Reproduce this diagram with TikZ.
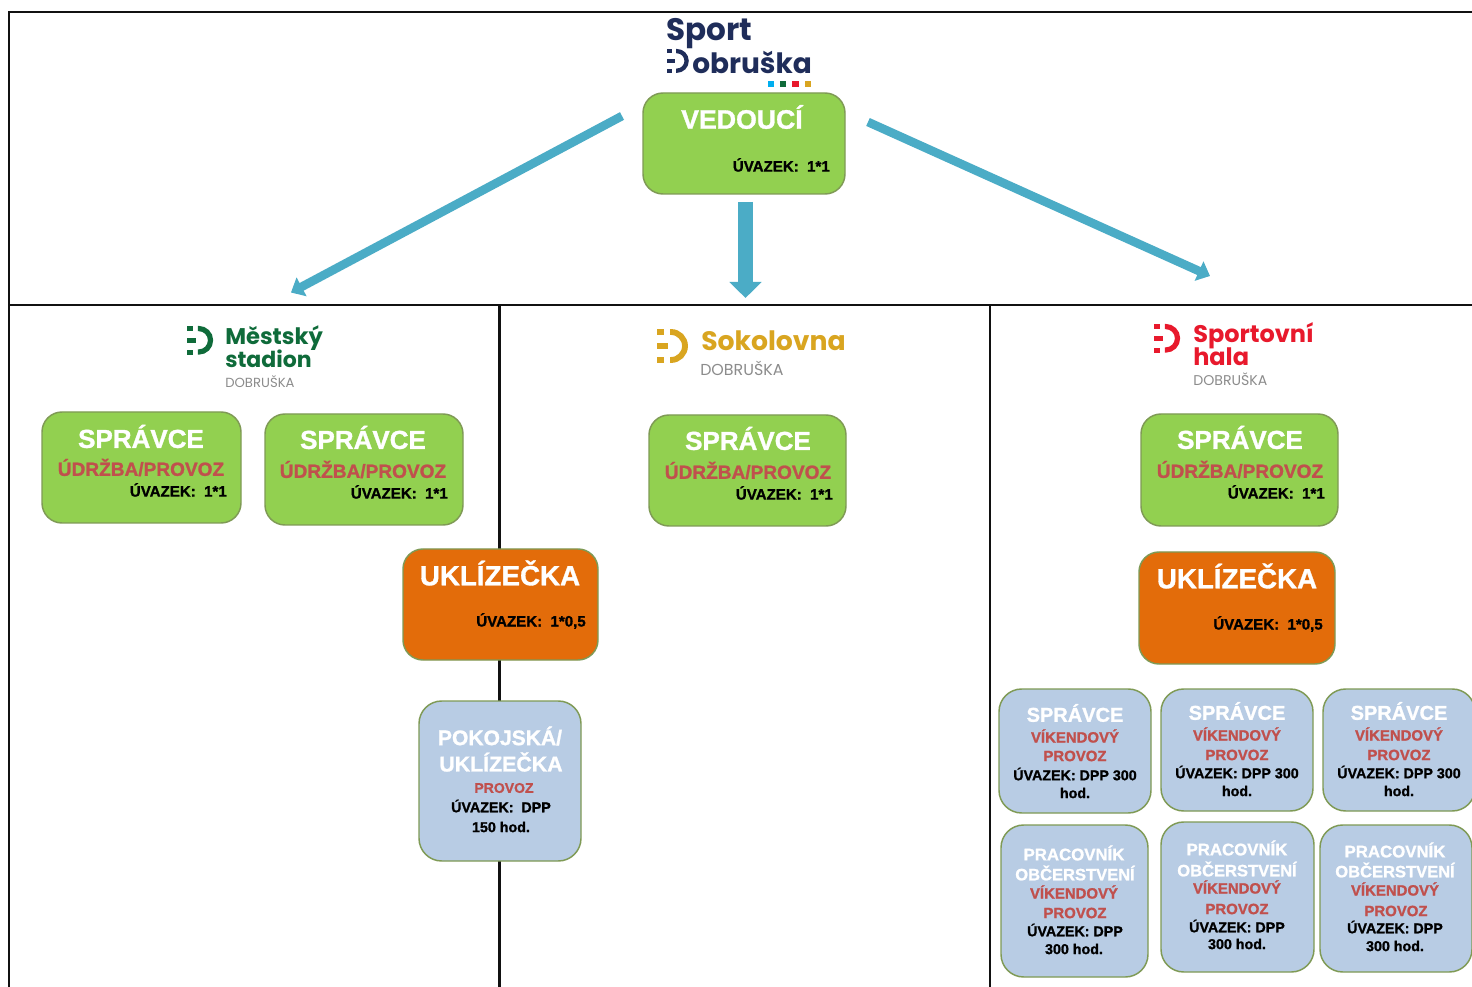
\documentclass[tikz,border=0pt]{standalone}
\usepackage{fontspec}
\setmainfont{Liberation Sans}[BoldFeatures={FakeBold=1.2}]
\newfontfamily\logofont{Poppins}
\usetikzlibrary{arrows.meta}
\definecolor{framecol}{HTML}{111111}
\definecolor{greenfill}{HTML}{92D050}
\definecolor{orangefill}{HTML}{E36C0A}
\definecolor{bluefill}{HTML}{B8CCE4}
\definecolor{boxedge}{HTML}{7F9A55}
\definecolor{arrowcol}{HTML}{4BACC6}
\definecolor{redtext}{HTML}{C0504D}
\definecolor{navylogo}{HTML}{1F2D5A}
\definecolor{greenlogo}{HTML}{0F6B3A}
\definecolor{goldlogo}{HTML}{D9A520}
\definecolor{redlogo}{HTML}{E8192C}
\definecolor{cyanlogo}{HTML}{00AEEF}
\definecolor{greylogo}{HTML}{8C8C8C}
\tikzset{
  boxsize/.style 2 args={minimum width=#1*0.75pt, minimum height=#2*0.75pt},
  basebox/.style={draw=boxedge, line width=1.1pt, rounded corners=15pt, inner sep=0pt},
  greenbox/.style={basebox, fill=greenfill},
  orangebox/.style={basebox, fill=orangefill},
  bluebox/.style={basebox, fill=bluefill, rounded corners=17pt},
  lbl/.style={inner sep=0pt, font=\bfseries\fontsize{#1}{#1}\selectfont},
  whitelbl/.style={lbl=#1, text=white},
  redlbl/.style={lbl=#1, text=redtext},
  blacklbl/.style={lbl=#1, text=black},
  logolbl/.style={inner sep=0pt, anchor=west, font=\logofont\bfseries\fontsize{#1}{#1}\selectfont},
  greylbl/.style={inner sep=0pt, anchor=west, text=greylogo, font=\logofont\fontsize{#1}{#1}\selectfont},
  framelink/.style={draw=framecol, line width=1.9pt},
  thinarrow/.style={draw=arrowcol, line width=6.5pt, -{Triangle[length=9pt, width=15.5pt]}},
  widearrow/.style={draw=arrowcol, line width=11.2pt, -{Triangle[length=12pt, width=23.5pt]}},
  dmark/.pic={
    \fill (0,0) rectangle (7,-6);
    \fill (0,-14) rectangle (11,-20);
    \fill (0,-28) rectangle (7,-34);
    \draw (13,-3) -- (14,-3) arc (90:-90:14) -- (13,-31);
  }
}
\begin{document}
\begin{tikzpicture}[x=0.75pt,y=0.75pt,yscale=-1,xscale=1]
  \useasboundingbox (0,0) rectangle (1472,987);
  \fill[white] (0,0) rectangle (1472,987);

  % frame
  \draw[framelink] (9,987) -- (9,12) -- (1472,12);
  \draw[framelink] (9,305) -- (1472,305);
  \draw[framelink] (499.5,305) -- (499.5,987);
  \draw[framelink] (990,305) -- (990,987);

  % boxes
  \node (vedouci) [greenbox, boxsize={202}{101}] at (744,143.5) {};
  \node (spravceA) [greenbox, boxsize={199}{111}] at (141.5,467.5) {};
  \node (spravceB) [greenbox, boxsize={198}{111}] at (364,469.5) {};
  \node (spravceC) [greenbox, boxsize={197}{111}] at (747.5,470.5) {};
  \node (spravceD) [greenbox, boxsize={197}{112}] at (1239.5,470) {};
  \node (uklizA) [orangebox, boxsize={195}{111}] at (500.5,604.5) {};
  \node (uklizB) [orangebox, boxsize={196}{112}] at (1237,608) {};
  \node (pokoj) [bluebox, boxsize={162}{160}] at (500,781) {};
  \node (vikendA) [bluebox, boxsize={152}{124}] at (1075,751) {};
  \node (vikendB) [bluebox, boxsize={152}{122}] at (1237,750) {};
  \node (vikendC) [bluebox, boxsize={152}{122}] at (1399,750) {};
  \node (bufetA) [bluebox, boxsize={147}{152}] at (1074.5,901) {};
  \node (bufetB) [bluebox, boxsize={153}{150}] at (1237.5,897) {};
  \node (bufetC) [bluebox, boxsize={152}{147}] at (1396,898.5) {};

  % arrows
  \coordinate (leftstart) at (622,116);
  \coordinate (leftend) at (291,292.5);
  \coordinate (midstart) at (745.5,202);
  \coordinate (midend) at (745.5,298);
  \coordinate (rightstart) at (868,122);
  \coordinate (rightend) at (1210,276);
  \draw[thinarrow] (leftstart) -- (leftend);
  \draw[widearrow] (midstart) -- (midend);
  \draw[thinarrow] (rightstart) -- (rightend);

  % logos
  \node (sportword) [logolbl=23.3, text=navylogo] at (666,34) {Sport};
  \node (dobruskaword) [logolbl=21, text=navylogo] at (692,62) {obruška};
  \path[color=navylogo, line width=3.2pt] (667,49) pic[scale=0.7] {dmark};
  \fill[cyanlogo] (768,81) rectangle (774,87);
  \fill[greenlogo] (780,81) rectangle (786,87);
  \fill[redlogo] (792,81) rectangle (799,87);
  \fill[goldlogo] (805,81) rectangle (811,87);

  \path[color=greenlogo, line width=3.9pt] (187,326) pic[scale=0.84] {dmark};
  \node (mestskyword) [logolbl=17, text=greenlogo] at (225,338) {Městský};
  \node (stadionword) [logolbl=16.5, text=greenlogo] at (225,359) {stadion};
  \node (mestskygrey) [greylbl=9.9] at (225,381.5) {DOBRUŠKA};

  \path[color=goldlogo, line width=4.4pt] (657,329) pic {dmark};
  \node (sokolword) [logolbl=20, text=goldlogo] at (701,341) {Sokolovna};
  \node (sokolgrey) [greylbl=11.9] at (700,368) {DOBRUŠKA};

  \path[color=redlogo, line width=3.9pt] (1154,324) pic[scale=0.84] {dmark};
  \node (halaword) [logolbl=18, text=redlogo] at (1193,336) {Sportovní};
  \node (halawordB) [logolbl=18, text=redlogo] at (1193,357) {hala};
  \node (halagrey) [greylbl=10.6] at (1193,379) {DOBRUŠKA};

  % labels
  \node (vedouciT) [whitelbl=20] at (742,117) {VEDOUCÍ};
  \node (vedouciU) [blacklbl=11.3, anchor=east] at (830,165) {ÚVAZEK:\ \ 1*1};

  \node (spravceAT) [whitelbl=19.5] at (141,436.5) {SPRÁVCE};
  \node (spravceAR) [redlbl=14.3] at (141,467.5) {ÚDRŽBA/PROVOZ};
  \node (spravceAU) [blacklbl=11.3, anchor=east] at (227,490) {ÚVAZEK:\ \ 1*1};
  \node (spravceBT) [whitelbl=19.5] at (363,437.5) {SPRÁVCE};
  \node (spravceBR) [redlbl=14.3] at (363,469.5) {ÚDRŽBA/PROVOZ};
  \node (spravceBU) [blacklbl=11.3, anchor=east] at (448,492) {ÚVAZEK:\ \ 1*1};
  \node (spravceCT) [whitelbl=19.5] at (748,438.5) {SPRÁVCE};
  \node (spravceCR) [redlbl=14.3] at (748,470.5) {ÚDRŽBA/PROVOZ};
  \node (spravceCU) [blacklbl=11.3, anchor=east] at (833,493) {ÚVAZEK:\ \ 1*1};
  \node (spravceDT) [whitelbl=19.5] at (1240,437.5) {SPRÁVCE};
  \node (spravceDR) [redlbl=14.3] at (1240,469.5) {ÚDRŽBA/PROVOZ};
  \node (spravceDU) [blacklbl=11.3, anchor=east] at (1325,492) {ÚVAZEK:\ \ 1*1};

  \node (uklizAT) [whitelbl=20.8] at (500,573) {UKLÍZEČKA};
  \node (uklizAU) [blacklbl=11.3, anchor=east] at (586,621) {ÚVAZEK:\ \ 1*0,5};
  \node (uklizBT) [whitelbl=20.8] at (1237,576) {UKLÍZEČKA};
  \node (uklizBU) [blacklbl=11.3, anchor=east] at (1323,624) {ÚVAZEK:\ \ 1*0,5};

  \node (pokojT) [whitelbl=15.8] at (500,736) {POKOJSKÁ/};
  \node (pokojTB) [whitelbl=16] at (501,762) {UKLÍZEČKA};
  \node (pokojR) [redlbl=10.5] at (504,788) {PROVOZ};
  \node (pokojU) [blacklbl=10.7] at (501,806) {ÚVAZEK:\ \ DPP};
  \node (pokojH) [blacklbl=10.7] at (501,827) {150 hod.};

  \node (vikendAT) [whitelbl=15] at (1075,713) {SPRÁVCE};
  \node (vikendAR) [redlbl=11.2] at (1075,736) {VÍKENDOVÝ};
  \node (vikendAP) [redlbl=11.2] at (1075,756) {PROVOZ};
  \node (vikendAU) [blacklbl=10.7] at (1075,774) {ÚVAZEK: DPP 300};
  \node (vikendAH) [blacklbl=10.7] at (1075,793) {hod.};
  \node (vikendBT) [whitelbl=15] at (1237,711) {SPRÁVCE};
  \node (vikendBR) [redlbl=11.2] at (1237,734) {VÍKENDOVÝ};
  \node (vikendBP) [redlbl=11.2] at (1237,755) {PROVOZ};
  \node (vikendBU) [blacklbl=10.7] at (1237,772) {ÚVAZEK: DPP 300};
  \node (vikendBH) [blacklbl=10.7] at (1237,791) {hod.};
  \node (vikendCT) [whitelbl=15] at (1399,711) {SPRÁVCE};
  \node (vikendCR) [redlbl=11.2] at (1399,734) {VÍKENDOVÝ};
  \node (vikendCP) [redlbl=11.2] at (1399,755) {PROVOZ};
  \node (vikendCU) [blacklbl=10.7] at (1399,772) {ÚVAZEK: DPP 300};
  \node (vikendCH) [blacklbl=10.7] at (1399,791) {hod.};

  \node (bufetAT) [whitelbl=12.6] at (1074,853) {PRACOVNÍK};
  \node (bufetAO) [whitelbl=12.4] at (1075,873) {OBČERSTVENÍ};
  \node (bufetAR) [redlbl=11.2] at (1074,892) {VÍKENDOVÝ};
  \node (bufetAP) [redlbl=11.2] at (1075,913) {PROVOZ};
  \node (bufetAU) [blacklbl=10.7] at (1075,930) {ÚVAZEK: DPP};
  \node (bufetAH) [blacklbl=10.7] at (1074,949) {300 hod.};
  \node (bufetBT) [whitelbl=12.6] at (1237,848) {PRACOVNÍK};
  \node (bufetBO) [whitelbl=12.4] at (1237,869) {OBČERSTVENÍ};
  \node (bufetBR) [redlbl=11.2] at (1237,887) {VÍKENDOVÝ};
  \node (bufetBP) [redlbl=11.2] at (1237,909) {PROVOZ};
  \node (bufetBU) [blacklbl=10.7] at (1237,926) {ÚVAZEK: DPP};
  \node (bufetBH) [blacklbl=10.7] at (1237,944) {300 hod.};
  \node (bufetCT) [whitelbl=12.6] at (1395,850) {PRACOVNÍK};
  \node (bufetCO) [whitelbl=12.4] at (1395,870) {OBČERSTVENÍ};
  \node (bufetCR) [redlbl=11.2] at (1395,889) {VÍKENDOVÝ};
  \node (bufetCP) [redlbl=11.2] at (1396,911) {PROVOZ};
  \node (bufetCU) [blacklbl=10.7] at (1395,927) {ÚVAZEK: DPP};
  \node (bufetCH) [blacklbl=10.7] at (1395,946) {300 hod.};
\end{tikzpicture}
\end{document}
